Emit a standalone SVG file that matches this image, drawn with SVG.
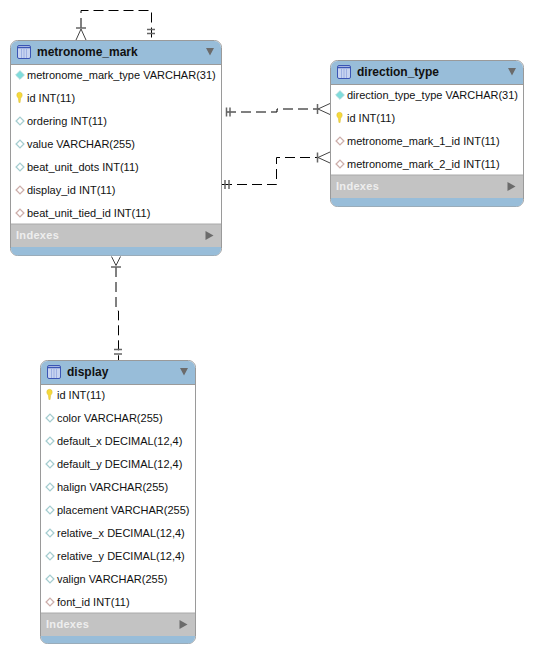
<svg xmlns="http://www.w3.org/2000/svg" width="533" height="654" viewBox="0 0 533 654">
<style>
text{font-family:"Liberation Sans",Arial,sans-serif;font-size:11px;fill:#111}
.t{font-weight:bold;font-size:12px}
.ix{font-weight:bold;font-size:11px;fill:#eee;letter-spacing:.3px}
.frame{fill:#fff;stroke:#9a9a9a;stroke-width:1}
.head{fill:#98bdd9}
.band{fill:#c3c3c3}
.tri{fill:#6b6b6b}
.con{fill:none;stroke:#000;stroke-width:1;stroke-dasharray:10 5}
.sym{fill:none;stroke:#444;stroke-width:1}
.bar{fill:none;stroke:#666;stroke-width:1.500}
.pk{fill:#7fdcdc;stroke:#a8d8d8}
.col{fill:#fff;stroke:#a5cdd0;stroke-width:1.300}
.fk{fill:#fff;stroke:#cdaeaa;stroke-width:1.300}
.key{fill:#f5d93a;stroke:#d8bb3a;stroke-width:.5}
</style>
<defs>
<g id="ic"><rect x="0.500" y="0.500" width="13" height="13" rx="1.500" fill="#c8d4f0" stroke="#3b55b5"/><path d="M1 2.500h12" stroke="#3b55b5" stroke-width="1.500"/><path d="M4.500 4v9M7 4v9M9.500 4v9" stroke="#9db0e2"/></g>
<path id="pkd" class="pk" d="M0-4.300 4.300 0 0 4.300-4.300 0Z"/>
<path id="cold" class="col" d="M0-3.900 3.900 0 0 3.900-3.900 0Z"/>
<path id="fkd" class="fk" d="M0-3.900 3.900 0 0 3.900-3.900 0Z"/>
<path id="k" class="key" d="M-2.700-3a2.700 2.700 0 0 1 5.400 0c0 2-1.300 2.500-1.600 3.500l-.5 4h-1.200l-.5-4c-.3-1-1.600-1.500-1.600-3.500Z"/>
</defs>
<g id="connectors">
<path class="con" d="M81 28V10.500H151.500V40"/>
<path class="con" d="M226 112H277V109H318"/>
<path class="con" d="M222 184.500H276.500V157.500H318"/>
<path class="con" d="M116 267V310L118.500 311V360"/>
<path class="bar" d="M76 28H86M147 29.500H155M147 33.500H155"/>
<path class="sym" d="M81 29 76 40M81 29 86 40"/>
<path class="bar" d="M226.500 107.500V116.500M230 107.500V116.500M317.500 104V114"/>
<path class="sym" d="M330 103.500 318 109 330 114.500"/>
<path class="bar" d="M225 180V189M229 180V189M317.500 152.500V162.500"/>
<path class="sym" d="M330 152 318 157.500 330 163"/>
<path class="bar" d="M111 267H121M114 349.500H122M114 354H122"/>
<path class="sym" d="M116 265.500 111.500 256.500M116 265.500 120.500 256.500"/>
</g>
<g id="metronome_mark">
<rect class="frame" x="10.500" y="40.500" width="211" height="215" rx="7"/>
<path class="head" d="M11 64V47.500A6.500 6.500 0 0 1 17.500 41H214.500A6.500 6.500 0 0 1 221 47.500V64Z"/>
<path d="M11 64.500H221" stroke="#9a9a9a"/>
<use href="#ic" x="17" y="45"/>
<text class="t" x="37" y="56">metronome_mark</text>
<path class="tri" d="M206 48H214L210 55.500Z"/>
<use href="#pkd" x="20" y="75"/><text x="27" y="79">metronome_mark_type VARCHAR(31)</text>
<use href="#k" x="19.500" y="98"/><text x="27" y="102">id INT(11)</text>
<use href="#cold" x="20" y="121"/><text x="27" y="125">ordering INT(11)</text>
<use href="#cold" x="20" y="144"/><text x="27" y="148">value VARCHAR(255)</text>
<use href="#cold" x="20" y="167"/><text x="27" y="171">beat_unit_dots INT(11)</text>
<use href="#fkd" x="20" y="190"/><text x="27" y="194">display_id INT(11)</text>
<use href="#fkd" x="20" y="213"/><text x="27" y="217">beat_unit_tied_id INT(11)</text>
<rect class="band" x="11" y="224" width="210" height="23"/>
<path d="M11 224H221" stroke="#aaa"/>
<text class="ix" x="16" y="239">Indexes</text>
<path class="tri" d="M205.500 231 213.500 235.500 205.500 240Z"/>
<path class="head" d="M11 247H221V249A6.500 6.500 0 0 1 214.500 255.500H17.500A6.500 6.500 0 0 1 11 249Z"/>
</g>
<g id="direction_type">
<rect class="frame" x="330.500" y="60.500" width="193" height="146" rx="7"/>
<path class="head" d="M331 84V67.500A6.500 6.500 0 0 1 337.500 61H516.500A6.500 6.500 0 0 1 523 67.500V84Z"/>
<path d="M331 84.500H523" stroke="#9a9a9a"/>
<use href="#ic" x="337" y="65"/>
<text class="t" x="357" y="76">direction_type</text>
<path class="tri" d="M508 68H516L512 75.500Z"/>
<use href="#pkd" x="340" y="95"/><text x="347" y="99">direction_type_type VARCHAR(31)</text>
<use href="#k" x="339.500" y="118"/><text x="347" y="122">id INT(11)</text>
<use href="#fkd" x="340" y="141"/><text x="347" y="145">metronome_mark_1_id INT(11)</text>
<use href="#fkd" x="340" y="164"/><text x="347" y="168">metronome_mark_2_id INT(11)</text>
<rect class="band" x="331" y="175" width="192" height="23"/>
<path d="M331 175H523" stroke="#aaa"/>
<text class="ix" x="336" y="190">Indexes</text>
<path class="tri" d="M507.500 182 515.500 186.500 507.500 191Z"/>
<path class="head" d="M331 198H523V200A6.500 6.500 0 0 1 516.500 206.500H337.500A6.500 6.500 0 0 1 331 200Z"/>
</g>
<g id="display">
<rect class="frame" x="40.500" y="360.500" width="155" height="283" rx="7"/>
<path class="head" d="M41 384V367.500A6.500 6.500 0 0 1 47.500 361H188.500A6.500 6.500 0 0 1 195 367.500V384Z"/>
<path d="M41 384.500H195" stroke="#9a9a9a"/>
<use href="#ic" x="47" y="365"/>
<text class="t" x="67" y="376">display</text>
<path class="tri" d="M180 368H188L184 375.500Z"/>
<use href="#k" x="49.500" y="395"/><text x="57" y="399">id INT(11)</text>
<use href="#cold" x="50" y="418"/><text x="57" y="422">color VARCHAR(255)</text>
<use href="#cold" x="50" y="441"/><text x="57" y="445">default_x DECIMAL(12,4)</text>
<use href="#cold" x="50" y="464"/><text x="57" y="468">default_y DECIMAL(12,4)</text>
<use href="#cold" x="50" y="487"/><text x="57" y="491">halign VARCHAR(255)</text>
<use href="#cold" x="50" y="510"/><text x="57" y="514">placement VARCHAR(255)</text>
<use href="#cold" x="50" y="533"/><text x="57" y="537">relative_x DECIMAL(12,4)</text>
<use href="#cold" x="50" y="556"/><text x="57" y="560">relative_y DECIMAL(12,4)</text>
<use href="#cold" x="50" y="579"/><text x="57" y="583">valign VARCHAR(255)</text>
<use href="#fkd" x="50" y="602"/><text x="57" y="606">font_id INT(11)</text>
<rect class="band" x="41" y="613" width="154" height="23"/>
<path d="M41 613H195" stroke="#aaa"/>
<text class="ix" x="46" y="628">Indexes</text>
<path class="tri" d="M179.500 620 187.500 624.500 179.500 629Z"/>
<path class="head" d="M41 636H195V637A6.500 6.500 0 0 1 188.500 643.500H47.500A6.500 6.500 0 0 1 41 637Z"/>
</g>
</svg>
